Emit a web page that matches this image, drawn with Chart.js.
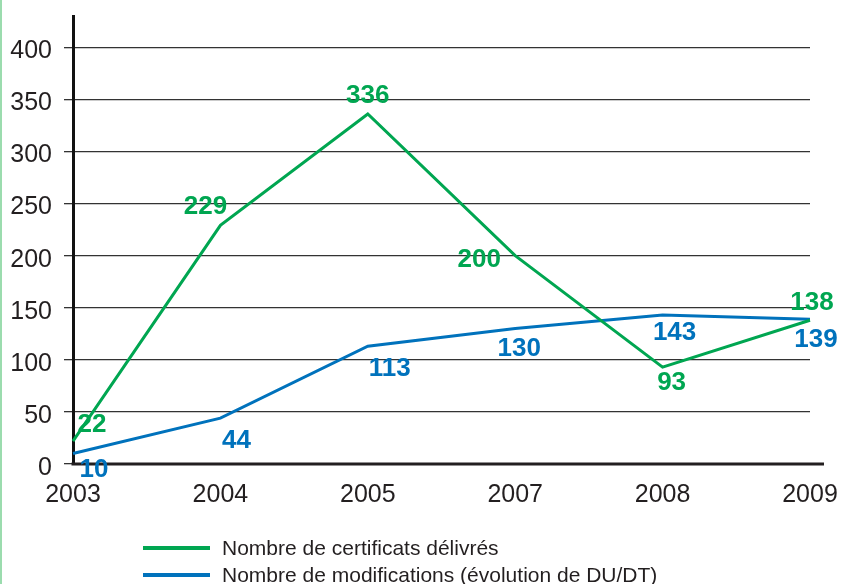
<!DOCTYPE html>
<html>
<head>
<meta charset="utf-8">
<script src="https://cdn.jsdelivr.net/npm/chart.js@4/dist/chart.umd.min.js"></script>
<style>
html,body{margin:0;padding:0;background:#fff;}
#wrap{position:relative;width:841px;height:584px;}
</style>
</head>
<body>
<div id="wrap"><canvas id="c" width="841" height="584"></canvas></div>
<script>
const years = ["2003", "2004", "2005", "2007", "2008", "2009"];
const certificats = [22, 229, 336, 200, 93, 138];
const modifications = [10, 44, 113, 130, 143, 139];
const seriesNames = ["Nombre de certificats délivrés", "Nombre de modifications (évolution de DU/DT)"];
const yTicks = [0, 50, 100, 150, 200, 250, 300, 350, 400];

// label offsets (px) relative to each point
const certDx = [19, -15, 0, -36, 9, 2];
const certDy = [-17, -20, -19, 3, 15, -18];
const modDx = [21, 16, 22, 4, 12, 6];
const modDy = [15, 22, 22, 19, 17, 20];

const FONT = "'Liberation Sans', Arial, Helvetica, sans-serif";
const GREEN = '#00a651';
const BLUE = '#0072bc';
const TEXT = '#231f20';

const decor = {
  id: 'decor',
  beforeDraw(chart) {
    const ctx = chart.ctx;
    ctx.save();
    ctx.fillStyle = '#fff';
    ctx.fillRect(0, 0, chart.width, chart.height);
    ctx.fillStyle = '#9bdcae';
    ctx.fillRect(0, 0, 2, chart.height);
    ctx.restore();
  },
  afterDatasetsDraw(chart) {
    const ctx = chart.ctx;
    const area = chart.chartArea;
    const y0 = chart.scales.y.getPixelForValue(0);
    // x axis line
    ctx.save();
    ctx.strokeStyle = '#231f20';
    ctx.lineWidth = 3;
    ctx.beginPath();
    ctx.moveTo(area.left - 1.5, y0);
    ctx.lineTo(824, y0);
    ctx.stroke();
    // data labels
    ctx.font = 'bold 26px ' + FONT;
    ctx.textAlign = 'center';
    ctx.textBaseline = 'middle';
    chart.data.datasets.forEach((ds, di) => {
      const meta = chart.getDatasetMeta(di);
      meta.data.forEach((pt, i) => {
        ctx.fillStyle = ds.borderColor;
        ctx.fillText(String(ds.data[i]), pt.x + ds.labelDx[i], pt.y + ds.labelDy[i] + 1);
      });
    });
    // legend
    ctx.font = '21px ' + FONT;
    ctx.textAlign = 'left';
    ctx.textBaseline = 'middle';
    const ly = [548, 575];
    chart.data.datasets.forEach((ds, di) => {
      ctx.strokeStyle = ds.borderColor;
      ctx.lineWidth = 4;
      ctx.beginPath();
      ctx.moveTo(143, ly[di]);
      ctx.lineTo(210, ly[di]);
      ctx.stroke();
      ctx.fillStyle = TEXT;
      ctx.fillText(ds.label, 222, ly[di] + 1);
    });
    ctx.restore();
  }
};

new Chart(document.getElementById('c'), {
  type: 'line',
  data: {
    labels: years,
    datasets: [
      { label: seriesNames[0], data: certificats, borderColor: GREEN, backgroundColor: GREEN,
        borderWidth: 3, pointRadius: 0, tension: 0, labelDx: certDx, labelDy: certDy },
      { label: seriesNames[1], data: modifications, borderColor: BLUE, backgroundColor: BLUE,
        borderWidth: 3, pointRadius: 0, tension: 0, labelDx: modDx, labelDy: modDy }
    ]
  },
  options: {
    responsive: false,
    animation: false,
    devicePixelRatio: 1,
    layout: { padding: { top: 16, right: 31, left: 0, bottom: 0 } },
    plugins: { legend: { display: false }, tooltip: { enabled: false } },
    scales: {
      x: {
        type: 'category',
        offset: false,
        grid: { display: false, drawTicks: false },
        border: { display: false },
        ticks: { color: TEXT, font: { family: FONT, size: 25 }, padding: 16, maxRotation: 0, autoSkip: false },
        afterFit(scale) { scale.height = 120; scale.paddingLeft = 0; scale.paddingRight = 0; }
      },
      y: {
        min: 0, max: 430,
        grid: { color: '#333', lineWidth: 1.3, tickLength: 9, tickColor: '#333' },
        border: { display: true, color: '#111', width: 3 },
        ticks: { color: TEXT, font: { family: FONT, size: 25 }, padding: 12, stepSize: 50, labelOffset: 4 },
        afterBuildTicks(scale) { scale.ticks = yTicks.map(v => ({ value: v })); },
        afterFit(scale) { scale.width = 73; scale.paddingTop = 0; scale.paddingBottom = 0; }
      }
    }
  },
  plugins: [decor]
});
</script>
</body>
</html>
